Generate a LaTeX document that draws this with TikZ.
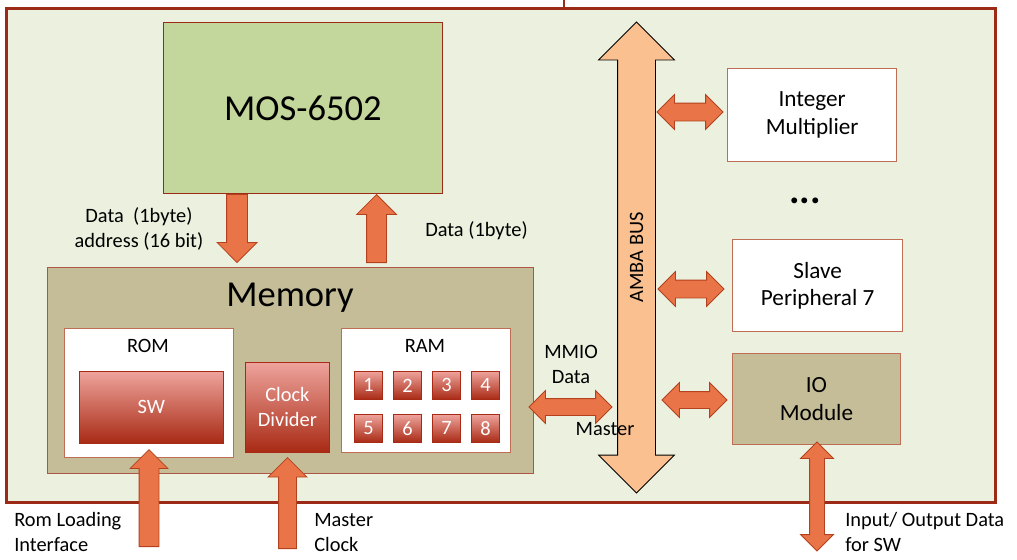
\documentclass[tikz,border=0pt]{standalone}
\usepackage{fontspec}
\setmainfont{Carlito}
\usetikzlibrary{shapes.arrows}
\definecolor{framered}{RGB}{155,42,22}
\definecolor{socfill}{RGB}{235,241,222}
\definecolor{cpugreen}{RGB}{195,214,155}
\definecolor{memtan}{RGB}{196,189,151}
\definecolor{boxedge}{RGB}{190,110,85}
\definecolor{arrowfill}{RGB}{233,116,71}
\definecolor{arrowedge}{RGB}{180,65,30}
\definecolor{busfill}{RGB}{250,192,144}
\definecolor{chiptop}{RGB}{238,163,156}
\definecolor{chipbot}{RGB}{168,42,20}
\newcommand{\px}{0.025cm}
\newcommand{\bigfont}{\fontsize{26}{30}\selectfont}
\newcommand{\midfont}{\fontsize{16.5}{19.5}\selectfont}
\newcommand{\lblfont}{\fontsize{14.5}{17.8}\selectfont}

\begin{document}
\begin{tikzpicture}[x=0.025cm, y=-0.025cm,
    box/.style={anchor=north west, inner sep=0pt, align=center},
    whitebox/.style={box, draw=boxedge, line width=0.9pt, fill=white},
    tanbox/.style={box, draw=framered!80, line width=0.6pt, fill=memtan},
    chip/.style={box, draw=chipbot, line width=0.6pt, top color=chiptop, bottom color=chipbot, text=white, font=\lblfont},
    lbl/.style={inner sep=0pt, align=center, font=\lblfont},
    fat/.style n args={3}{single arrow, draw=arrowedge, fill=arrowfill, line width=0.6pt,
      inner sep=0pt, anchor=tip, single arrow tip angle=90,
      minimum height=#1*\px, minimum width=#3*\px, inner ysep=#2*\px/2,
      single arrow head extend=(#3-#2)*\px/2},
    fatboth/.style n args={3}{double arrow, draw=arrowedge, fill=arrowfill, line width=0.6pt,
      inner sep=0pt, double arrow tip angle=90,
      minimum height=#1*\px, minimum width=#3*\px, inner ysep=#2*\px/2,
      double arrow head extend=(#3-#2)*\px/2}]
    \useasboundingbox (0,0) rectangle (1017,559);

    % SoC frame and the wire leaving it at the top
    \node[box, draw=framered, line width=2pt, fill=socfill, minimum width=989*\px, minimum height=494*\px] (soc) at (5,7) {};
    \coordinate (topwire) at (564,0);
    \draw[framered, line width=2pt] (topwire) -- (topwire |- soc.north);

    % CPU
    \node[box, draw=framered, line width=0.6pt, fill=cpugreen, minimum width=279*\px, minimum height=171*\px, font=\bigfont] (cpu) at (163,22) {MOS-6502};

    % Memory with ROM, clock divider and RAM
    \node[tanbox, minimum width=486*\px, minimum height=206*\px] (mem) at (47,267) {};
    \node[font=\bigfont, inner sep=0pt] (memtitle) at (290,298) {Memory};
    \node[whitebox, minimum width=169*\px, minimum height=129*\px] (rom) at (64,328) {};
    \node[lbl] (romtitle) at (148,346) {ROM};
    \node[chip, minimum width=144*\px, minimum height=72*\px] (sw) at (79,371) {SW};
    \node[chip, minimum width=84*\px, minimum height=90*\px] (clkdiv) at (245,362) {Clock\\Divider};
    \node[whitebox, minimum width=169*\px, minimum height=124*\px] (ram) at (341,328) {};
    \node[lbl] (ramtitle) at (425,346) {RAM};
    \foreach \n in {1,...,8} {
        \pgfmathsetmacro\cx{354+39*mod(\n-1,4)}
        \pgfmathsetmacro\cy{371+43*int((\n-1)/4)}
        \node[chip, minimum size=28*\px] (cell\n) at (\cx,\cy) {\n};
    }

    % Slaves on the bus
    \node[whitebox, font=\midfont, minimum width=169*\px, minimum height=93*\px] (mult) at (727,68) {Integer\\Multiplier};
    \node[font=\bfseries\fontsize{28}{30}\selectfont, inner sep=0pt] (more) at (805,201) {...};
    \node[whitebox, font=\midfont, minimum width=170*\px, minimum height=92*\px] (slave) at (732,239) {Slave\\Peripheral 7};
    \node[tanbox, draw=boxedge, font=\midfont, minimum width=168*\px, minimum height=91*\px] (io) at (732,353) {IO\\Module};

    % Block arrows
    \node[fat={68}{20}{39}, rotate=-90] (cpuout) at (237,263) {};
    \node[fat={68}{19}{39}, rotate=90] (cpuin) at (376.5,194) {};
    \node[fat={97}{19}{37}, rotate=90] (romload) at (149,449) {};
    \node[fat={91}{17}{38}, rotate=90] (clkin) at (287.5,457) {};
    \node[fatboth={471}{37}{75}, rotate=90, fill=busfill, draw=black] (amba) at (636.5,257.5) {};
    \node[lbl, rotate=90] (ambalbl) at (amba.center) {AMBA BUS};
    \node[fatboth={66}{17}{34}] (multlink) at (690,112) {};
    \node[fatboth={66}{17}{34}] (slavelink) at (691,289) {};
    \node[fatboth={65}{16}{34}] (iolink) at (694.5,400) {};
    \node[fatboth={83}{16}{32}] (mmio) at (570.5,407) {};
    \node[fatboth={109}{14}{32}, rotate=90] (iodata) at (817,496.5) {};

    % Labels
    \node[lbl] (addrlbl) at (139,228.5) {Data\ \ (1byte)\\address (16 bit)};
    \node[lbl] (datalbl) at (476.5,231) {Data (1byte)};
    \node[lbl] (mmiolbl) at (571,364.5) {MMIO\\Data};
    \node[lbl] (masterlbl) at (605,429) {Master};
    \node[lbl, anchor=west, align=left] (romlbl) at (14,532) {Rom Loading\\Interface};
    \node[lbl, anchor=west, align=left] (clklbl) at (314,533) {Master\\Clock};
    \node[lbl, anchor=west, align=left] (iolbl) at (845,532) {Input/ Output Data\\for SW};
\end{tikzpicture}
\end{document}
